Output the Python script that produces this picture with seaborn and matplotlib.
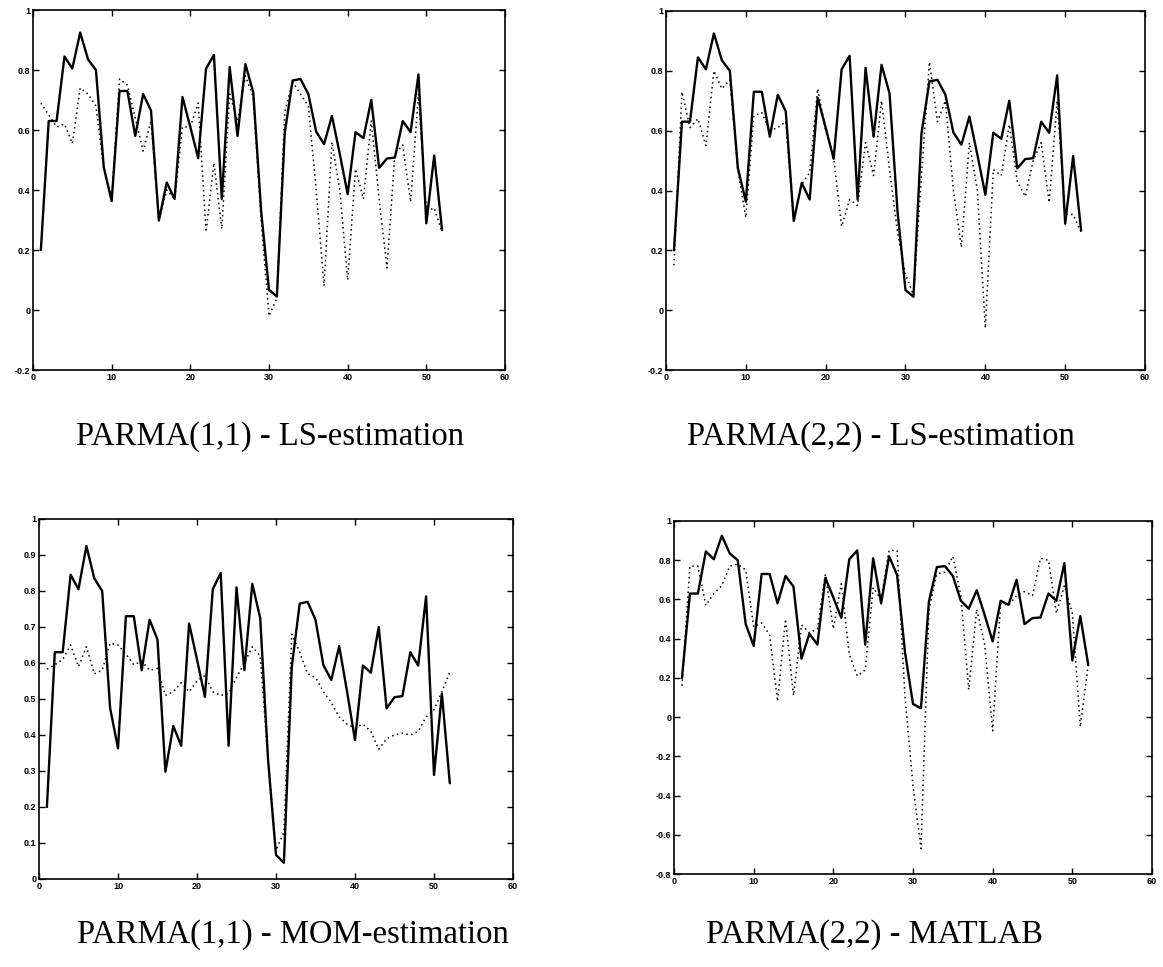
import numpy as np
import pandas as pd
import matplotlib
matplotlib.use("Agg")
import matplotlib.pyplot as plt
import seaborn as sns

# ---- data -------------------------------------------------------------
weeks = list(range(1, 53))

observed = [0.20, 0.63, 0.63, 0.845, 0.805, 0.925, 0.835, 0.80, 0.475, 0.363,
            0.73, 0.73, 0.58, 0.72, 0.665, 0.298, 0.425, 0.37, 0.71, 0.61,
            0.506, 0.805, 0.85, 0.37, 0.81, 0.58, 0.82, 0.725, 0.33, 0.067,
            0.045, 0.59, 0.765, 0.77, 0.72, 0.594, 0.553, 0.647, 0.52, 0.386,
            0.593, 0.573, 0.70, 0.474, 0.505, 0.508, 0.63, 0.593, 0.785, 0.289,
            0.515, 0.266]

ls11 = [0.69, 0.65, 0.61, 0.62, 0.555, 0.74, 0.72, 0.68, 0.47, 0.37,
        0.77, 0.75, 0.64, 0.53, 0.63, 0.30, 0.40, 0.37, 0.61, 0.61,
        0.69, 0.26, 0.49, 0.27, 0.72, 0.63, 0.78, 0.71, 0.30, -0.02,
        0.04, 0.66, 0.76, 0.72, 0.68, 0.40, 0.08, 0.56, 0.40, 0.10,
        0.47, 0.37, 0.63, 0.37, 0.14, 0.52, 0.55, 0.36, 0.72, 0.33,
        0.34, 0.26]

ls22 = [0.15, 0.73, 0.61, 0.64, 0.55, 0.80, 0.74, 0.77, 0.47, 0.31,
        0.65, 0.66, 0.60, 0.61, 0.63, 0.30, 0.42, 0.46, 0.74, 0.60,
        0.51, 0.28, 0.37, 0.35, 0.56, 0.45, 0.70, 0.47, 0.26, 0.12,
        0.05, 0.45, 0.83, 0.63, 0.70, 0.40, 0.21, 0.56, 0.40, -0.06,
        0.47, 0.45, 0.62, 0.43, 0.38, 0.50, 0.56, 0.36, 0.70, 0.32,
        0.32, 0.26]

mom11 = [0.583, 0.595, 0.61, 0.65, 0.59, 0.645, 0.57, 0.58, 0.655, 0.65,
         0.625, 0.595, 0.605, 0.58, 0.585, 0.51, 0.52, 0.545, 0.52, 0.55,
         0.565, 0.52, 0.51, 0.515, 0.56, 0.60, 0.645, 0.62, 0.33, 0.08,
         0.13, 0.68, 0.63, 0.57, 0.56, 0.52, 0.49, 0.45, 0.43, 0.42,
         0.43, 0.41, 0.36, 0.39, 0.40, 0.405, 0.40, 0.41, 0.45, 0.47,
         0.52, 0.575]

matlab22 = [0.16, 0.77, 0.77, 0.57, 0.63, 0.67, 0.77, 0.78, 0.75, 0.46,
            0.48, 0.42, 0.08, 0.50, 0.11, 0.47, 0.43, 0.45, 0.73, 0.45,
            0.68, 0.32, 0.21, 0.24, 0.66, 0.60, 0.85, 0.85, 0.10, -0.35,
            -0.67, 0.55, 0.73, 0.74, 0.82, 0.62, 0.14, 0.55, 0.37, -0.07,
            0.58, 0.57, 0.62, 0.64, 0.62, 0.81, 0.80, 0.53, 0.67, 0.53,
            -0.05, 0.27]

titles = ["PARMA(1,1) - LS-estimation", "PARMA(2,2) - LS-estimation",
          "PARMA(1,1) - MOM-estimation", "PARMA(2,2) - MATLAB"]
fitted = [ls11, ls22, mom11, matlab22]
y_limits = [(-0.2, 1.0), (-0.2, 1.0), (0.0, 1.0), (-0.8, 1.0)]
y_steps = [0.2, 0.2, 0.1, 0.2]
x_ticks = [0, 10, 20, 30, 40, 50, 60]

# ---- layout (figure fractions) ----------------------------------------
W, H = 1163, 967
boxes_px = [(33, 10, 505, 370), (666, 11, 1145, 370),
            (39, 519, 513, 879), (674, 521, 1152, 874)]
title_px = [(270, 437), (881, 437), (293, 935), (875, 935)]

sns.set_style("ticks")
plt.rcParams["font.family"] = ["Liberation Sans", "DejaVu Sans"]

fig = plt.figure(figsize=(W / 100, H / 100), dpi=100)

for i in range(4):
    l, t, r, b = boxes_px[i]
    ax = fig.add_axes([l / W, 1 - b / H, (r - l) / W, (b - t) / H])
    df = pd.DataFrame({"week": weeks, "observed": observed, "fitted": fitted[i]})
    sns.lineplot(data=df, x="week", y="observed", ax=ax, color="black",
                 linewidth=1.7, linestyle="-")
    sns.lineplot(data=df, x="week", y="fitted", ax=ax, color="black",
                 linewidth=1.1, linestyle=(0, (1, 2.2)))
    lo, hi = y_limits[i]
    ax.set_xlim(0, 60)
    ax.set_ylim(lo, hi)
    yt = np.round(np.arange(lo, hi + 1e-9, y_steps[i]), 2) + 0.0
    ax.set_xticks(x_ticks)
    ax.set_yticks(yt)
    ax.set_xticklabels([str(v) for v in x_ticks])
    ax.set_yticklabels([("%g" % (0.0 if abs(v) < 1e-9 else v)) for v in yt])
    ax.set_xlabel("")
    ax.set_ylabel("")
    ax.tick_params(direction="in", length=4, width=1, top=True, right=True,
                   labelsize=6.5, pad=2, colors="black")
    for lab in ax.get_xticklabels() + ax.get_yticklabels():
        lab.set_fontweight("bold")
    for sp in ax.spines.values():
        sp.set_visible(True)
        sp.set_linewidth(1.2)
        sp.set_color("black")
    ax.set_facecolor("white")
    cx, cy = title_px[i]
    fig.text(cx / W, 1 - cy / H, titles[i], ha="center", va="center",
             fontsize=23.5, color="black",
             family=["Liberation Serif", "DejaVu Serif"])

fig.savefig("out.png", dpi=100, facecolor="white")
